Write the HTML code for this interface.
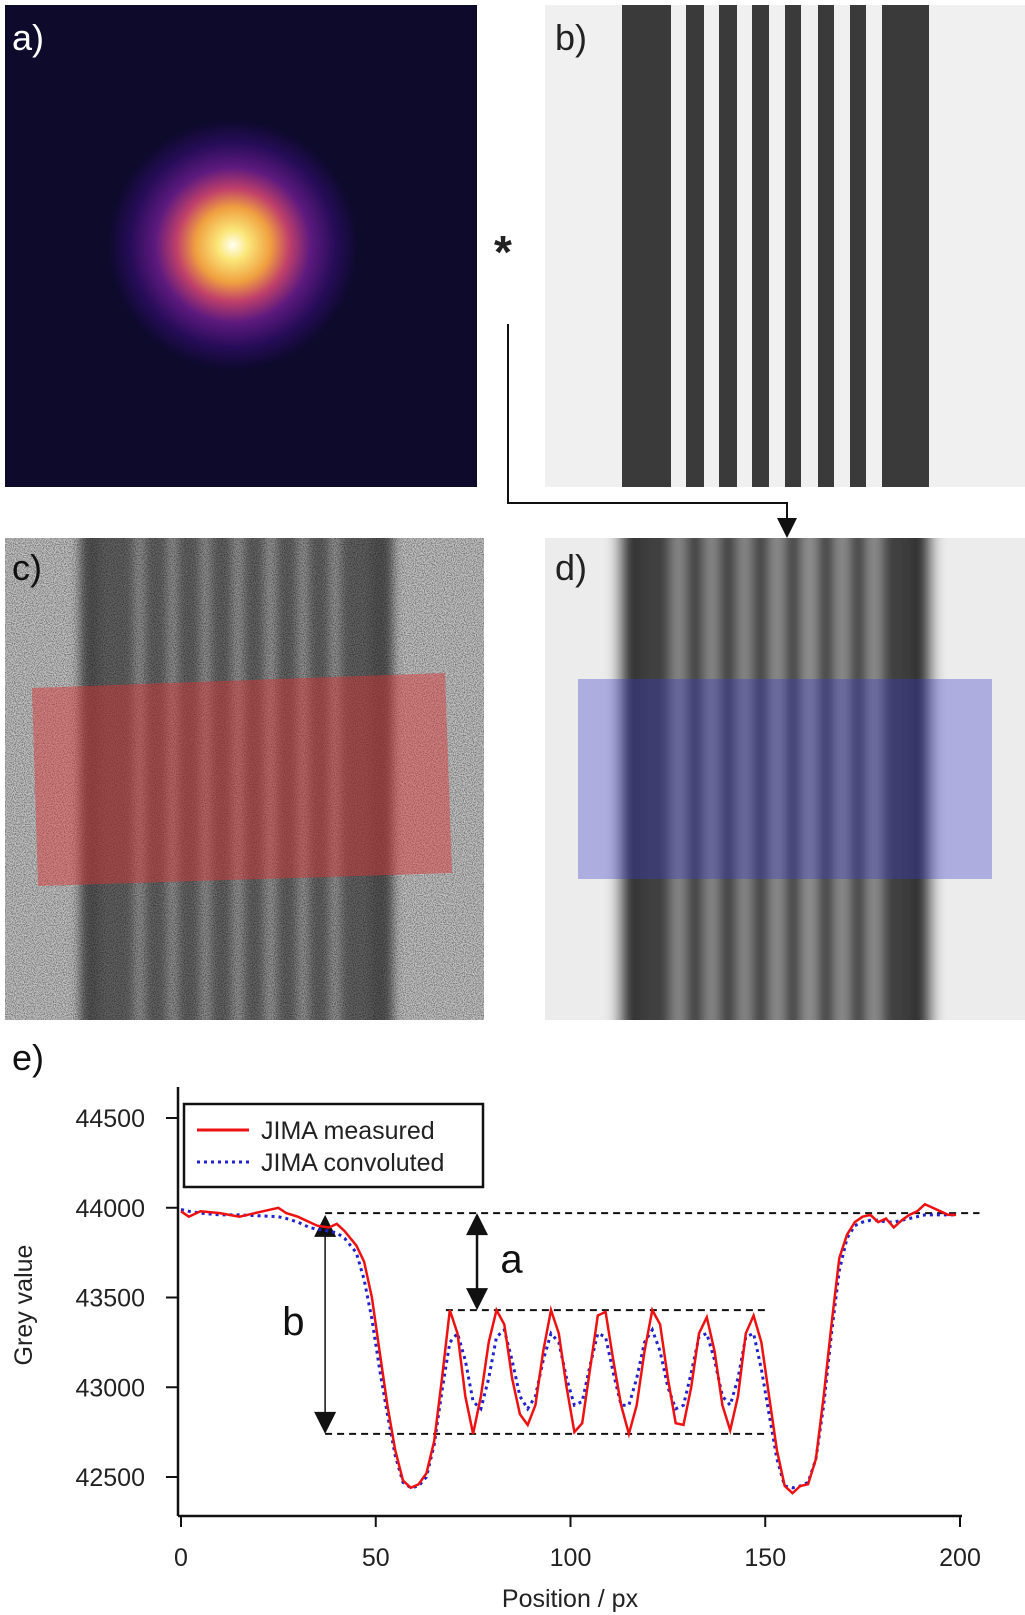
<!DOCTYPE html>
<html><head><meta charset="utf-8">
<style>
html,body{margin:0;padding:0;background:#fff;}
body{width:1025px;height:1615px;position:relative;overflow:hidden;font-family:"Liberation Sans",Arial,sans-serif;}
svg{position:absolute;left:0;top:0;}
</style></head>
<body>
<svg id="fig" width="1025" height="1615" viewBox="0 0 1025 1615">
<defs>
  <radialGradient id="psf" cx="233" cy="245" r="125" gradientUnits="userSpaceOnUse">
    <stop offset="0" stop-color="#fffff4"/>
    <stop offset="0.12" stop-color="#fbe77a"/>
    <stop offset="0.3" stop-color="#f0a040"/>
    <stop offset="0.45" stop-color="#c0406a"/>
    <stop offset="0.62" stop-color="#5e1a7e"/>
    <stop offset="0.82" stop-color="#260c58"/>
    <stop offset="1" stop-color="#0d0a2c"/>
  </radialGradient>
  <filter id="noise" x="0" y="0" width="1" height="1">
    <feTurbulence type="fractalNoise" baseFrequency="0.9" numOctaves="1" seed="3"/>
    <feColorMatrix type="matrix" values="0 0 0 0 0  0 0 0 0 0  0 0 0 0 0  0 0 0 -1.2 0.75"/>
  </filter>
  <filter id="blur" x="-0.2" y="0" width="1.4" height="1"><feGaussianBlur stdDeviation="7 0"/></filter>
  <filter id="blurc" x="-0.2" y="0" width="1.4" height="1"><feGaussianBlur stdDeviation="5 0"/></filter>
  <clipPath id="clipd"><rect x="545" y="538" width="480" height="482"/></clipPath>
  <clipPath id="clipc"><rect x="5" y="538" width="479" height="482"/></clipPath>
</defs>

<g>
  <rect x="5" y="5" width="472" height="482" fill="#0d0a2c"/>
  <rect x="5" y="5" width="472" height="482" fill="url(#psf)"/>
  <text x="12" y="50" font-size="36" fill="#fff">a)</text>
</g>

<g id="panelB">
  <rect x="545" y="5" width="480" height="482" fill="#f0f0f0"/>
  <text x="555" y="50" font-size="36" fill="#222">b)</text>
</g>

<text x="494" y="268" font-size="46" font-weight="bold" fill="#222">*</text>
<polyline points="508,324 508,503 787,503 787,520" fill="none" stroke="#111" stroke-width="2"/>
<polygon points="777,518 797,518 787,538" fill="#111"/>

<g clip-path="url(#clipc)">
  <rect x="5" y="538" width="479" height="482" fill="#c4c4c4"/>
  <g id="cBands" filter="url(#blurc)"></g>
  <rect x="5" y="538" width="479" height="482" filter="url(#noise)"/>
  <polygon points="32,688 445,673 452,873 38,886" fill="#e03030" fill-opacity="0.45"/>
  <text x="12" y="580" font-size="36" fill="#111">c)</text>
</g>

<g clip-path="url(#clipd)">
  <rect x="545" y="538" width="480" height="482" fill="#ececec"/>
  <g id="dBands" filter="url(#blur)"></g>
  <rect x="578" y="679" width="414" height="200" fill="#3a3ac8" fill-opacity="0.35"/>
  <text x="555" y="580" font-size="36" fill="#222">d)</text>
</g>

<text x="12" y="1070" font-size="36" fill="#111">e)</text>
<g id="chart"></g>
</svg>

<script>
var barStarts = [622, 686, 719, 752, 785, 818, 850, 882];
var barEnds   = [671, 704, 737, 769, 801, 834, 866, 929];

var positions = [0,2,5,10,15,20,25,27,30,33,35,38,40,42,45,47,49,51,53,55,57,59,61,63,65,67,69,71,73,75,77,79,81,83,85,87,89,91,93,95,97,99,101,103,105,107,109,111,113,115,117,119,121,123,125,127,129,131,133,135,137,139,141,143,145,147,149,151,153,155,157,159,161,163,165,167,169,171,173,175,177,179,181,183,185,187,189,191,193,195,197,199];
var measured = [43980,43950,43980,43970,43950,43975,44000,43970,43950,43920,43900,43890,43910,43870,43790,43700,43500,43200,42900,42650,42480,42440,42460,42520,42700,43050,43430,43300,42950,42740,42950,43250,43430,43350,43050,42850,42790,42900,43200,43430,43300,43000,42750,42800,43100,43400,43420,43150,42900,42740,42900,43200,43430,43350,43050,42800,42790,43000,43300,43390,43200,42900,42760,42950,43300,43400,43250,42950,42650,42450,42410,42450,42460,42600,42950,43350,43720,43850,43920,43950,43960,43920,43940,43890,43930,43960,43980,44020,44000,43980,43960,43960];
var convoluted = [43990,43980,43970,43960,43960,43955,43950,43940,43920,43890,43880,43870,43860,43830,43750,43600,43380,43100,42850,42620,42470,42440,42450,42500,42680,42980,43250,43300,43150,42920,42880,43050,43280,43320,43150,42950,42880,42950,43150,43300,43250,43050,42900,42920,43120,43300,43280,43080,42900,42900,43050,43250,43320,43200,43000,42880,42900,43080,43280,43300,43150,42950,42900,43050,43280,43300,43100,42850,42600,42450,42440,42450,42470,42600,42900,43300,43650,43830,43900,43920,43930,43930,43920,43920,43930,43940,43950,43960,43960,43960,43960,43960];
var xTicks = [0,50,100,150,200];
var yTicks = [42500,43000,43500,44000,44500];
var levelTop = 43970, levelPeak = 43430, levelTrough = 42740;

var NS = "http://www.w3.org/2000/svg";
function mk(tag, attrs, parent){ var e=document.createElementNS(NS,tag); for(var k in attrs) e.setAttribute(k, attrs[k]); parent.appendChild(e); return e; }

var pb = document.getElementById('panelB');
for (var i=0;i<barStarts.length;i++){
  var r = mk('rect',{x:barStarts[i],y:5,width:barEnds[i]-barStarts[i],height:482,fill:'#3a3a3a'},pb);
  
  
}
var db = document.getElementById('dBands');
mk('rect',{x:545,y:538,width:480,height:482,fill:'#ececec'},db);
for (var i=0;i<barStarts.length;i++){
  var r = mk('rect',{x:barStarts[i]-4,y:520,width:barEnds[i]-barStarts[i]+8,height:520,fill:'#333'},db);
  
  
}
mk('rect',{x:640,y:520,width:270,height:520,fill:'#555',opacity:0.35},db);
var cb = document.getElementById('cBands');
for (var i=0;i<barStarts.length;i++){
  var r = mk('rect',{x:barStarts[i]-539-3,y:520,width:barEnds[i]-barStarts[i]+6,height:520,fill:'#555'},cb);
  
  
}
mk('rect',{x:100,y:520,width:270,height:520,fill:'#777',opacity:0.4},cb);

var g = document.getElementById('chart');
var X0=181, X1=960, Y0=1477, Y1=1118;
function sx(v){ return X0 + v*(X1-X0)/200; }
function sy(v){ return Y0 - (v-42500)*(Y0-Y1)/2000; }

var ya = mk('line',{x1:178,y1:1087,x2:178,y2:1516,stroke:'#111','stroke-width':2.5},g);
 
var xa = mk('line',{x1:178,y1:1516,x2:962,y2:1516,stroke:'#111','stroke-width':2.5},g);
 

xTicks.forEach(function(t){
  mk('line',{x1:sx(t),y1:1516,x2:sx(t),y2:1527,stroke:'#111','stroke-width':2},g);
  var tx = mk('text',{x:sx(t),y:1566,'font-size':25,'text-anchor':'middle',fill:'#222'},g);
  tx.textContent = t;
  
  
});
yTicks.forEach(function(t){
  mk('line',{x1:166,y1:sy(t),x2:178,y2:sy(t),stroke:'#111','stroke-width':2},g);
  var tx = mk('text',{x:145,y:sy(t)+9,'font-size':25,'text-anchor':'end',fill:'#222'},g);
  tx.textContent = t;
  
  
});
var xt = mk('text',{x:570,y:1607,'font-size':25,'text-anchor':'middle',fill:'#222'},g);
xt.textContent='Position / px';
 
var yt = mk('text',{x:32,y:1305,'font-size':25,'text-anchor':'middle',fill:'#222',transform:'rotate(-90 32 1305)'},g);
yt.textContent='Grey value';
 

function dash(a,b,v,name){
  var l = mk('line',{x1:sx(a),y1:sy(v),x2:sx(b),y2:sy(v),stroke:'#111','stroke-width':2,'stroke-dasharray':'7,5'},g);
   
}
dash(37,205,levelTop,'baseline-level');
dash(68,150,levelPeak,'peak-level');
dash(37,150,levelTrough,'trough-level');

function arrow(xv,v1,v2,sw,name){
  var x=sx(xv), a=sy(v1), b=sy(v2);
  var l = mk('line',{x1:x,y1:a+12,x2:x,y2:b-12,stroke:'#111','stroke-width':sw},g);
   
  mk('polygon',{points:(x-11)+','+(a+22)+' '+(x+11)+','+(a+22)+' '+x+','+a,fill:'#111'},g);
  mk('polygon',{points:(x-11)+','+(b-22)+' '+(x+11)+','+(b-22)+' '+x+','+b,fill:'#111'},g);
}
arrow(76,levelTop,levelPeak,2.5,'arrow-a');
arrow(37,levelTop-10,levelTrough,1.5,'arrow-b');
var la = mk('text',{x:sx(82),y:sy(43640),'font-size':40,fill:'#111'},g);
la.textContent='a';  
var lb = mk('text',{x:sx(26),y:sy(43290),'font-size':40,fill:'#111'},g);
lb.textContent='b';  

function path(vals){ return positions.map(function(p,i){ return (i?'L':'M')+sx(p).toFixed(1)+','+sy(vals[i]).toFixed(1); }).join(''); }
var pc = mk('path',{d:path(convoluted),fill:'none',stroke:'#2222cc','stroke-width':3,'stroke-dasharray':'3,4'},g);
 
var pm = mk('path',{d:path(measured),fill:'none',stroke:'#ee1111','stroke-width':2.5},g);
 

var lg = mk('g',{},g);
 
mk('rect',{x:184,y:1104,width:299,height:83,fill:'#fff',stroke:'#111','stroke-width':2.5},lg);
mk('line',{x1:197,y1:1130,x2:249,y2:1130,stroke:'#ee1111','stroke-width':3},lg);
mk('line',{x1:197,y1:1162,x2:249,y2:1162,stroke:'#2222cc','stroke-width':3,'stroke-dasharray':'3,4'},lg);
var t1 = mk('text',{x:261,y:1139,'font-size':25,fill:'#222'},lg);
t1.textContent='JIMA measured';
 
var t2 = mk('text',{x:261,y:1171,'font-size':25,fill:'#222'},lg);
t2.textContent='JIMA convoluted';
 
</script>
</body></html>
